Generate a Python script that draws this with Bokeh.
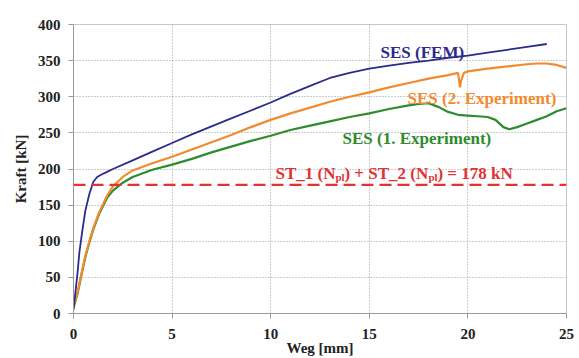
from bokeh.plotting import figure
from bokeh.models import Range1d, Label, Span, FixedTicker
from bokeh.embed import file_html
from bokeh.resources import INLINE

# --- data ---
fem_x = [0, 0.1, 0.2, 0.3, 0.45, 0.6, 0.8, 1.0, 1.2, 1.4, 1.7, 2.0, 3, 4, 5, 6, 7, 8, 9, 10, 11, 12, 13, 14, 15, 16, 17, 18, 19, 20, 21, 22, 23, 24]
fem_y = [5, 30, 55, 85, 115, 142, 165, 182, 189, 192, 196, 200, 212, 224, 236, 248, 259, 270, 281, 292, 304, 315, 326, 333, 339, 343, 347, 350, 354, 357, 361, 365, 369, 373]

exp2_x = [0, 0.2, 0.4, 0.6, 0.8, 1.0, 1.3, 1.7, 2.0, 2.5, 3, 4, 5, 6, 7, 8, 9, 10, 11, 12, 13, 14, 15, 16, 17, 18, 19, 19.5, 19.6, 19.65, 19.8, 20, 21, 22, 23, 23.5, 24, 24.5, 25]
exp2_y = [10, 28, 55, 80, 100, 118, 140, 163, 176, 189, 198, 208, 217, 227, 237, 247, 258, 268, 277, 285, 293, 300, 306, 313, 319, 325, 330, 333, 313, 322, 333, 335, 339, 342, 345, 346, 346, 344, 340]

exp1_x = [0, 0.2, 0.4, 0.6, 0.8, 1.0, 1.3, 1.7, 2.0, 2.5, 3, 4, 5, 6, 7, 8, 9, 10, 11, 12, 13, 14, 15, 16, 17, 17.5, 18, 18.5, 19, 19.5, 20, 20.5, 21, 21.4, 21.8, 22.1, 22.5, 23, 23.5, 24, 24.5, 25]
exp1_y = [8, 27, 53, 78, 98, 116, 138, 160, 170, 181, 189, 199, 206, 214, 223, 231, 239, 246, 254, 260, 266, 272, 277, 283, 288, 290, 291, 286, 279, 275, 274, 273, 272, 268, 258, 255, 258, 263, 268, 273, 280, 284]

limit_value = 178

x_ticks = [0, 5, 10, 15, 20, 25]
y_ticks = [0, 50, 100, 150, 200, 250, 300, 350, 400]

NAVY = "#2b2b8c"
ORANGE = "#f28a2e"
GREEN = "#2e8b2e"
RED = "#e03333"
FONT = "'Liberation Serif', 'Times New Roman', serif"

p = figure(width=579, height=358, output_backend="svg", toolbar_location=None,
           x_range=Range1d(0, 25), y_range=Range1d(0, 400),
           min_border_left=73, min_border_right=13, min_border_top=24, min_border_bottom=45)

p.outline_line_color = "#c8c8c8"
p.outline_line_width = 1

p.xaxis.ticker = FixedTicker(ticks=x_ticks)
p.yaxis.ticker = FixedTicker(ticks=y_ticks)
for ax in (p.xaxis, p.yaxis):
    ax.major_label_text_font = FONT
    ax.major_label_text_font_style = "bold"
    ax.major_label_text_font_size = "15px"
    ax.major_label_text_color = "#222222"
    ax.axis_label_text_font = FONT
    ax.axis_label_text_font_style = "bold"
    ax.axis_label_text_font_size = "15px"
    ax.axis_label_text_color = "#222222"
    ax.axis_line_color = "#999999"
    ax.major_tick_line_color = "#999999"
    ax.minor_tick_line_color = None
    ax.major_tick_out = 5
    ax.major_tick_in = 0
p.xaxis.axis_label = "Weg [mm]"
p.yaxis.axis_label = "Kraft [kN]"
p.xaxis.major_label_standoff = 10
p.xaxis.axis_label_standoff = -2
p.yaxis.major_label_standoff = 8
p.yaxis.axis_label_standoff = 6

for g in (p.xgrid, p.ygrid):
    g.grid_line_color = "#9a9a9a"
    g.grid_line_dash = "1 2"
    g.grid_line_width = 1

p.add_layout(Span(location=limit_value, dimension="width", line_color=RED,
                  line_width=2.4, line_dash="12 6"))

p.line(exp1_x, exp1_y, line_color=GREEN, line_width=2.2)
p.line(exp2_x, exp2_y, line_color=ORANGE, line_width=2.2)
p.line(fem_x, fem_y, line_color=NAVY, line_width=1.8)

def lab(x, y, t, c, size="17px", xo=0, yo=0):
    p.add_layout(Label(x=x, y=y, text=t, text_color=c, text_font=FONT,
                       text_font_style="bold", text_font_size=size,
                       x_offset=xo, y_offset=yo, text_baseline="alphabetic"))

lab(15.57, 361, "SES (FEM)", NAVY)
lab(16.94, 297.6, "SES (2. Experiment)", ORANGE)
lab(13.64, 242, "SES (1. Experiment)", GREEN)

# limit label with subscripts
bx, by = 10.24, 193.8
lab(bx, by, "ST_1 (N", RED)
lab(bx, by, "pl", RED, size="11px", xo=60, yo=-4)
lab(bx, by, ") + ST_2 (N", RED, xo=69)
lab(bx, by, "pl", RED, size="11px", xo=153, yo=-4)
lab(bx, by, ") = 178 kN", RED, xo=162)

open("out.html", "w").write(file_html(p, INLINE))
